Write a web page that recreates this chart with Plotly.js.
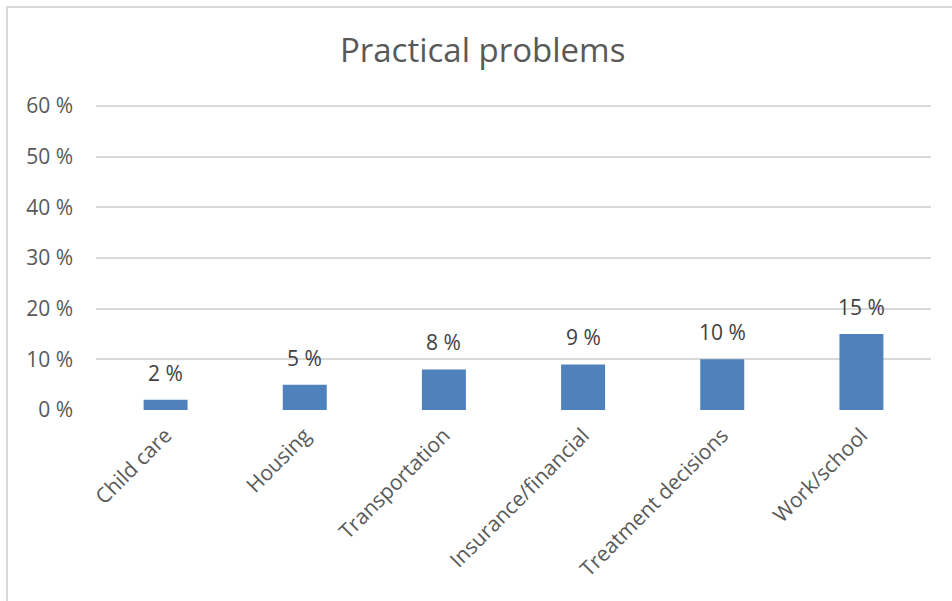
<!DOCTYPE html>
<html>
<head>
<meta charset="utf-8">
<script src="https://cdn.plot.ly/plotly-3.0.1.min.js"></script>
<style>
  html, body { margin: 0; padding: 0; background: #ffffff; overflow: hidden; }
  #wrap { position: relative; width: 952px; height: 601px; }
  #chart { position: absolute; left: 0; top: 0; width: 952px; height: 601px; }
  #frame {
    position: absolute; left: 6px; top: 6px; width: 960px; height: 610px;
    border-left: 2px solid #d9d9d9; border-top: 2px solid #d9d9d9;
    pointer-events: none;
  }
</style>
</head>
<body>
<div id="wrap">
  <div id="chart"></div>
  <div id="frame"></div>
</div>
<script>
// Share of respondents reporting each practical problem (percent)
const categories = ["Child care", "Housing", "Transportation", "Insurance/financial", "Treatment decisions", "Work/school"];
const shares = [2, 5, 8, 9, 10, 15];
const yTicks = [0, 10, 20, 30, 40, 50, 60];
const yTickLabels = ["0 %", "10 %", "20 %", "30 %", "40 %", "50 %", "60 %"];
const chartTitle = "Practical problems";

const FONT = "Open Sans, Noto Sans, Liberation Sans, sans-serif";

const bars = {
  type: "bar",
  x: categories,
  y: shares,
  marker: { color: "#4f81bd", line: { width: 0 } },
  hoverinfo: "x+y"
};

// Value labels above each bar, taken from the same series
const valueLabels = categories.map((c, i) => ({
  x: c,
  y: shares[i],
  xref: "x",
  yref: "y",
  text: shares[i] + " %",
  showarrow: false,
  yanchor: "bottom",
  yshift: 11,
  font: { family: FONT, size: 21, color: "#404040" }
}));

const layout = {
  width: 952,
  height: 601,
  margin: { l: 96, r: 21, t: 104, b: 191, pad: 0 },
  paper_bgcolor: "rgba(0,0,0,0)",
  plot_bgcolor: "rgba(0,0,0,0)",
  showlegend: false,
  bargap: 0.684,
  title: {
    text: chartTitle,
    font: { family: FONT, size: 33, color: "#595959" },
    x: 0.507,
    xanchor: "center",
    xref: "container",
    y: 0.897,
    yref: "container",
    yanchor: "bottom"
  },
  xaxis: {
    type: "category",
    tickangle: -45,
    tickfont: { family: FONT, size: 21, color: "#595959" },
    showgrid: false,
    zeroline: false,
    showline: false,
    ticks: "",
    ticklabelstandoff: 8
  },
  yaxis: {
    range: [0, 60.4],
    tickvals: yTicks,
    ticktext: yTickLabels,
    tickfont: { family: FONT, size: 21, color: "#595959" },
    showgrid: true,
    gridcolor: "#d9d9d9",
    gridwidth: 2,
    zeroline: false,
    showline: false,
    ticks: "",
    ticklabelstandoff: 22
  },
  annotations: valueLabels
};

Plotly.newPlot("chart", [bars], layout, { staticPlot: true, displayModeBar: false });
</script>
</body>
</html>
